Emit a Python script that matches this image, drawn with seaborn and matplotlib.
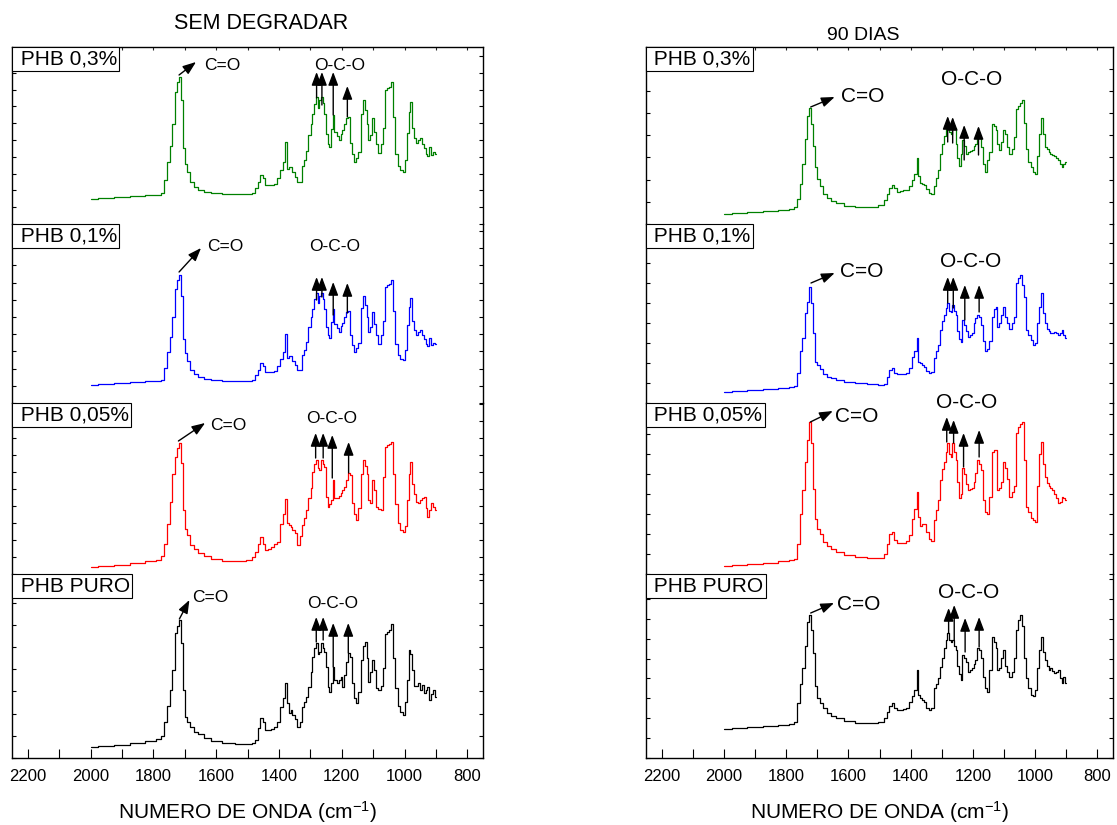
import matplotlib
matplotlib.use('Agg')
import matplotlib.pyplot as plt
import seaborn as sns
import pandas as pd
from matplotlib.ticker import MultipleLocator, NullFormatter

sns.set_theme(style='white')
plt.rcParams['font.family'] = ['Liberation Sans', 'DejaVu Sans']
plt.rcParams['mathtext.fontset'] = 'custom'
plt.rcParams['mathtext.rm'] = 'Liberation Sans'
plt.rcParams['mathtext.it'] = 'Liberation Sans:italic'
plt.rcParams['mathtext.bf'] = 'Liberation Sans:bold'

# ---------------- data (wavenumber grid, absorbance in arbitrary units) ----------------
W = [2000, 1950, 1900, 1850, 1800, 1780, 1770, 1760, 1752, 1744,
     1736, 1728, 1722, 1716, 1710, 1704, 1696, 1688, 1676, 1664,
     1650, 1630, 1600, 1560, 1520, 1490, 1480, 1472, 1464, 1456,
     1448, 1440, 1430, 1420, 1410, 1400, 1392, 1384, 1378, 1372,
     1366, 1360, 1354, 1346, 1338, 1330, 1322, 1316, 1310, 1302,
     1296, 1290, 1284, 1280, 1274, 1268, 1264, 1258, 1252, 1248,
     1242, 1236, 1232, 1226, 1220, 1212, 1206, 1200, 1195, 1190,
     1184, 1178, 1170, 1164, 1158, 1152, 1144, 1136, 1130, 1124,
     1118, 1112, 1106, 1100, 1094, 1088, 1080, 1072, 1064, 1058,
     1052, 1046, 1040, 1034, 1026, 1018, 1010, 1002, 996, 990,
     984, 978, 972, 966, 960, 954, 948, 942, 936, 930,
     924, 918, 912, 906, 900]

# SEM DEGRADAR
L03 = [25, 26, 27, 28, 29, 29, 31, 44, 62, 78,
       100, 132, 142, 147, 124, 76, 60, 52, 42, 37,
       34, 32, 31, 30, 30, 30, 31, 36, 42, 49,
       46, 39, 39, 39, 40, 46, 54, 62, 82, 55,
       57, 57, 52, 47, 42, 42, 58, 64, 73, 89,
       100, 110, 120, 127, 116, 124, 127, 121, 110, 90,
       80, 77, 95, 109, 92, 88, 84, 90, 94, 100,
       106, 107, 81, 70, 62, 66, 72, 110, 124, 114,
       100, 84, 89, 106, 92, 80, 71, 80, 96, 134,
       136, 137, 142, 107, 70, 58, 54, 52, 64, 91,
       112, 122, 96, 86, 81, 84, 86, 80, 76, 70,
       68, 77, 69, 72, 70]
L01 = [18, 19, 20, 21, 22, 22, 23, 35, 51, 66,
       86, 114, 123, 128, 107, 64, 50, 42, 33, 29,
       26, 24, 23, 22, 22, 22, 23, 28, 33, 40,
       37, 31, 31, 31, 32, 37, 44, 51, 69, 45,
       47, 47, 42, 38, 33, 33, 48, 53, 61, 76,
       86, 94, 104, 110, 100, 107, 110, 104, 94, 76,
       68, 65, 81, 94, 79, 75, 71, 77, 80, 86,
       91, 92, 68, 58, 51, 55, 60, 95, 107, 98,
       86, 71, 76, 91, 79, 68, 59, 68, 82, 116,
       118, 119, 123, 92, 59, 48, 44, 43, 53, 78,
       96, 105, 82, 73, 68, 71, 73, 68, 64, 59,
       57, 65, 58, 60, 59]
L005 = [7, 8, 9, 11, 13, 14, 18, 30, 50, 72,
        100, 117, 126, 131, 111, 64, 45, 39, 29, 25,
        21, 18, 15, 13, 13, 14, 17, 22, 30, 37,
        30, 24, 25, 27, 30, 32, 50, 60, 75, 51,
        49, 47, 44, 41, 29, 38, 49, 56, 64, 76,
        86, 102, 110, 114, 106, 104, 114, 110, 107, 77,
        67, 70, 74, 94, 76, 76, 78, 81, 84, 87,
        94, 101, 99, 71, 60, 54, 66, 100, 114, 108,
        100, 74, 71, 94, 84, 67, 65, 64, 97, 127,
        129, 130, 132, 100, 70, 51, 44, 42, 48, 74,
        100, 112, 90, 80, 72, 71, 74, 76, 77, 66,
        57, 64, 71, 67, 64]
L00 = [11, 12, 13, 15, 17, 19, 22, 36, 52, 68,
       88, 125, 132, 138, 115, 68, 41, 36, 31, 26,
       24, 20, 17, 15, 14, 14, 15, 18, 30, 40,
       36, 28, 28, 29, 31, 36, 51, 60, 75, 55,
       45, 48, 43, 39, 31, 36, 51, 56, 61, 71,
       86, 101, 110, 115, 104, 106, 115, 110, 106, 91,
       71, 66, 75, 91, 78, 75, 78, 81, 71, 83,
       96, 105, 101, 75, 60, 55, 66, 98, 112, 116,
       100, 76, 86, 98, 88, 70, 68, 72, 90, 124,
       126, 128, 134, 100, 70, 52, 46, 43, 56, 78,
       108, 104, 88, 72, 72, 75, 68, 73, 65, 68,
       71, 58, 64, 68, 61]

# 90 DIAS
R03 = [10, 11, 12, 13, 14, 15, 17, 25, 40, 60,
       85, 108, 116, 100, 78, 57, 45, 38, 30, 26,
       23, 21, 18, 17, 17, 19, 24, 30, 36, 39,
       36, 32, 33, 34, 34, 38, 44, 50, 66, 48,
       41, 40, 39, 35, 31, 30, 38, 46, 54, 70,
       80, 88, 96, 101, 92, 90, 99, 96, 80, 66,
       58, 70, 84, 78, 70, 72, 73, 74, 78, 80,
       89, 86, 77, 60, 52, 64, 72, 100, 98, 94,
       80, 74, 82, 94, 90, 77, 70, 75, 87, 115,
       118, 121, 124, 101, 75, 62, 57, 52, 50, 68,
       90, 106, 90, 77, 75, 72, 70, 69, 68, 66,
       64, 60, 57, 60, 62]
R01 = [11, 12, 13, 14, 15, 16, 17, 30, 52, 65,
       90, 101, 116, 100, 70, 41, 38, 34, 29, 26,
       25, 23, 21, 20, 19, 18, 19, 26, 33, 35,
       30, 29, 29, 29, 30, 35, 46, 52, 65, 41,
       40, 38, 36, 32, 30, 31, 45, 52, 58, 73,
       82, 88, 95, 100, 92, 91, 98, 92, 88, 72,
       64, 61, 83, 78, 72, 66, 68, 70, 80, 85,
       88, 86, 78, 62, 52, 54, 62, 86, 94, 96,
       76, 80, 88, 96, 86, 80, 74, 80, 86, 120,
       125, 128, 118, 106, 73, 68, 63, 58, 60, 80,
       96, 110, 90, 80, 74, 72, 70, 70, 71, 70,
       68, 70, 73, 68, 65]
R005 = [8, 9, 10, 11, 13, 14, 15, 30, 60, 84,
        112, 134, 152, 131, 85, 55, 45, 40, 32, 28,
        25, 22, 19, 17, 16, 16, 20, 30, 40, 42,
        34, 31, 31, 31, 33, 39, 55, 65, 82, 57,
        48, 50, 50, 42, 35, 33, 54, 64, 74, 94,
        105, 112, 122, 131, 120, 117, 131, 122, 114, 92,
        76, 80, 106, 100, 90, 84, 85, 86, 92, 101,
        114, 110, 104, 74, 62, 60, 77, 122, 124, 124,
        84, 86, 92, 112, 106, 95, 77, 82, 88, 141,
        147, 150, 152, 114, 67, 62, 56, 54, 52, 88,
        120, 132, 110, 97, 91, 88, 86, 84, 80, 76,
        71, 72, 77, 76, 74]
R00 = [29, 30, 31, 32, 33, 34, 36, 55, 74, 90,
       112, 136, 143, 128, 105, 72, 60, 55, 50, 45,
       42, 40, 37, 35, 35, 36, 40, 46, 52, 55,
       50, 48, 48, 49, 50, 56, 62, 68, 88, 63,
       60, 58, 56, 50, 48, 50, 70, 74, 80, 91,
       100, 110, 118, 125, 118, 116, 118, 112, 108, 92,
       84, 78, 103, 100, 96, 86, 88, 90, 94, 98,
       110, 108, 100, 81, 70, 66, 88, 121, 116, 110,
       88, 90, 100, 108, 92, 86, 81, 86, 100, 128,
       138, 143, 132, 100, 80, 70, 63, 62, 68, 90,
       108, 121, 106, 98, 92, 88, 90, 87, 85, 86,
       88, 80, 75, 81, 75]

LABELS = ['PHB 0,3%', 'PHB 0,1%', 'PHB 0,05%', 'PHB PURO']
TITLES = ['SEM DEGRADAR', '90 DIAS']
XTICKS = [2200, 2000, 1800, 1600, 1400, 1200, 1000, 800]
XLABEL = 'NUMERO DE ONDA (cm$^{-1}$)'
COLORS = ['#008000', '#0000ff', '#ff0000', '#000000']

# ---------------- annotation layout (per segment) ----------------
ANN_L = [
    dict(co=(1718, 149, 1664, 162, 1639, 154), oco=(1207, 154),
         arr=[(1280, 126, 152), (1263, 119, 152), (1227, 109, 152), (1182, 107, 138)]),
    dict(co=(1718, 131, 1648, 155, 1629, 152), oco=(1222, 152),
         arr=[(1280, 103, 126), (1263, 106, 126), (1227, 88, 121), (1182, 90, 120)]),
    dict(co=(1720, 133, 1635, 151, 1619, 144), oco=(1231, 151),
         arr=[(1283, 116, 141), (1259, 116, 141), (1230, 96, 139), (1178, 101, 132)]),
    dict(co=(1717, 139, 1685, 158, 1677, 156), oco=(1228, 150),
         arr=[(1281, 116, 141), (1259, 118, 141), (1227, 91, 135), (1179, 105, 135)]),
]
ANN_R = [
    dict(co=(1721, 117, 1644, 127, 1623, 122), oco=(1203, 139),
         arr=[(1281, 82, 108), (1265, 81, 107), (1228, 64, 99), (1182, 69, 98)]),
    dict(co=(1720, 120, 1644, 130, 1628, 126), oco=(1206, 136),
         arr=[(1281, 100, 126), (1263, 95, 126), (1226, 83, 118), (1180, 91, 118)]),
    dict(co=(1722, 152, 1650, 163, 1642, 152), oco=(1221, 166),
         arr=[(1284, 132, 157), (1262, 131, 154), (1230, 107, 141), (1180, 117, 144)]),
    dict(co=(1721, 145, 1646, 155, 1635, 148), oco=(1215, 160),
         arr=[(1278, 125, 150), (1260, 118, 153), (1225, 106, 140), (1180, 111, 141)]),
]

FIG_W, FIG_H = 1117, 825
SEG = [47, 224, 403, 574, 758]
PANELS = [
    dict(x0=12, x1=483, series=[L03, L01, L005, L00], yt=[16.8, 17.2, 17.0, 22.2],
         ann=ANN_L, afs=12.5, title=TITLES[0], tx=261, ty=29, tfs=15.5),
    dict(x0=646, x1=1113, series=[R03, R01, R005, R00], yt=[22.2, 20.0, 20.0, 19.9],
         ann=ANN_R, afs=15, title=TITLES[1], tx=863, ty=40, tfs=14),
]

fig = plt.figure(figsize=(FIG_W / 100, FIG_H / 100), dpi=100)
arrow_kw = dict(arrowstyle='-|>,head_length=0.8,head_width=0.3', color='black',
                lw=1.0, shrinkA=0, shrinkB=0, mutation_scale=10)

for p in PANELS:
    for i in range(4):
        top, bot = SEG[i], SEG[i + 1]
        ax = fig.add_axes([p['x0'] / FIG_W, 1 - bot / FIG_H,
                           (p['x1'] - p['x0']) / FIG_W, (bot - top) / FIG_H])
        ax.patch.set_alpha(0)
        df = pd.DataFrame({'wn': W, 'abs': p['series'][i]})
        sns.lineplot(data=df, x='wn', y='abs', ax=ax, color=COLORS[i], lw=0.9,
                     drawstyle='steps-mid', estimator=None, sort=False)
        ax.set_xlim(2250, 750)
        ax.set_ylim(0, bot - top)
        ax.set_xlabel('')
        ax.set_ylabel('')
        for s in ax.spines.values():
            s.set_color('black')
            s.set_linewidth(1.0)
        ax.spines['top'].set_visible(i == 0)
        ax.spines['bottom'].set_visible(i == 3)
        ax.yaxis.set_major_locator(MultipleLocator(p['yt'][i]))
        ax.yaxis.set_major_formatter(NullFormatter())
        ax.tick_params(axis='y', which='both', direction='in', left=True, right=True,
                       length=3, width=0.8, labelleft=False, colors='black')
        ax.set_xticks(XTICKS)
        ax.xaxis.set_minor_locator(MultipleLocator(100))
        if i == 3:
            ax.set_xticklabels([str(t) for t in XTICKS])
            ax.tick_params(axis='x', which='both', direction='in', bottom=True, top=False,
                           length=6.5, width=0.8, labelsize=12, pad=8, colors='black')
        elif i == 0:
            ax.tick_params(axis='x', which='both', direction='in', bottom=False, top=True,
                           length=2.5, width=0.8, labelbottom=False)
        else:
            ax.tick_params(axis='x', which='both', bottom=False, top=False, labelbottom=False)

        ax.annotate(' ' + LABELS[i], xy=(0, 1), xycoords='axes fraction', xytext=(1.8, -1.8),
                    textcoords='offset points', ha='left', va='top', fontsize=15, color='black',
                    bbox=dict(boxstyle='square,pad=0.12', fc='white', ec='black', lw=0.8),
                    zorder=6)
        a = p['ann'][i]
        sx, sy, ex, ey, tx, ty = a['co']
        ax.annotate('', xy=(ex, ey), xytext=(sx, sy), arrowprops=arrow_kw, annotation_clip=False)
        ax.text(tx, ty, 'C=O', ha='left', va='baseline', fontsize=p['afs'], color='black')
        ox, oy = a['oco']
        ax.text(ox, oy, 'O-C-O', ha='center', va='baseline', fontsize=p['afs'], color='black')
        for wx, y0, y1 in a['arr']:
            ax.annotate('', xy=(wx, y1), xytext=(wx, y0), arrowprops=arrow_kw, annotation_clip=False)

    fig.text(p['tx'] / FIG_W, 1 - p['ty'] / FIG_H, p['title'], ha='center', va='baseline',
             fontsize=p['tfs'], color='black')
    fig.text((p['x0'] + p['x1']) / 2 / FIG_W, 1 - 819 / FIG_H, XLABEL, ha='center',
             va='baseline', fontsize=15, color='black')

fig.savefig('out.png', dpi=100)
